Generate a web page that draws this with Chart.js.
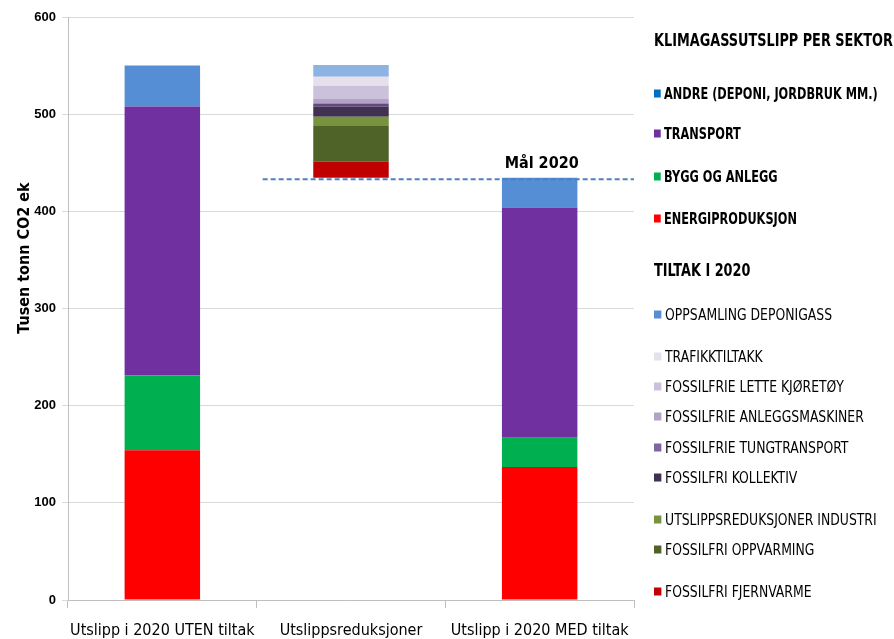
<!DOCTYPE html>
<html>
<head>
<meta charset="utf-8">
<script src="https://cdn.jsdelivr.net/npm/chart.js@4.4.1/dist/chart.umd.min.js"></script>
<style>
  body { margin: 0; background: #fff; }
  #ramme { position: relative; width: 894px; height: 639px; }
  #legende { position: absolute; left: 0; top: 0; width: 894px; height: 639px; pointer-events: none; }
  .rad { position: absolute; left: 654px; white-space: nowrap; font-family: "DejaVu Sans Condensed", "DejaVu Sans", sans-serif; font-size: 15px; line-height: 1; transform: translateY(-50%) scaleX(0.92); transform-origin: 0 50%; color: #000; }
  .rad .boks { display: inline-block; width: 8px; height: 8px; margin-right: 4px; vertical-align: 1px; }
  .fet { font-weight: bold; transform: translateY(-50%) scaleX(0.84); }
  .overskrift { font-weight: bold; font-size: 17px; transform: translateY(-50%) scaleX(0.84); }
</style>
</head>
<body>
<div id="ramme">
  <canvas id="graf" width="894" height="639"></canvas>
  <div id="legende"></div>
</div>
<script>
// kategorier og verdier lest av bildet (tusen tonn CO2-ekvivalenter)
const kategorier = ['Utslipp i 2020 UTEN tiltak', 'Utslippsreduksjoner', 'Utslipp i 2020 MED tiltak'];

const sektorer = ['ENERGIPRODUKSJON', 'BYGG OG ANLEGG', 'TRANSPORT', 'ANDRE (DEPONI, JORDBRUK MM.)'];
const utenTiltak = [154, 77, 277, 42];
const medTiltak = [137, 30, 237, 30.5];

const tiltak = ['FOSSILFRI FJERNVARME', 'FOSSILFRI OPPVARMING', 'UTSLIPPSREDUKSJONER INDUSTRI',
  'FOSSILFRI KOLLEKTIV', 'FOSSILFRIE TUNGTRANSPORT', 'FOSSILFRIE ANLEGGSMASKINER',
  'FOSSILFRIE LETTE KJØRETØY', 'TRAFIKKTILTAKK', 'OPPSAMLING DEPONIGASS'];
const reduksjoner = [16.5, 36.7, 9.6, 10.3, 3.5, 4.4, 13.7, 9.3, 12];

const maal2020 = 433;
const yMaks = 600;
const ySteg = 100;

// farger
const sektorFarger = ['#ff0000', '#00b050', '#7030a0', '#558ed5'];
const sektorLegendeFarger = ['#ff0000', '#00b050', '#7030a0', '#0070c0'];
const tiltakFarger = ['#c00000', '#4f6228', '#77933c', '#403152', '#604a7b', '#b3a2c7', '#ccc1da', '#e6e0ec', '#8db3e2'];
const tiltakLegendeFarger = ['#c00000', '#4f6228', '#77933c', '#403152', '#8064a2', '#b3a2c7', '#ccc1da', '#e6e0ec', '#558ed5'];

const fontNarrow = '"DejaVu Sans Condensed", "DejaVu Sans", sans-serif';

// restutslipp etter tiltak = grunnlinje for den flytende stolpen
const grunnlinje = medTiltak.reduce((a, b) => a + b, 0);

const datasett = [];
sektorer.forEach((navn, i) => {
  datasett.push({
    label: navn,
    data: [utenTiltak[i], null, medTiltak[i]],
    backgroundColor: sektorFarger[i]
  });
});
datasett.push({
  label: 'grunnlinje',
  data: [null, grunnlinje, null],
  backgroundColor: 'rgba(0,0,0,0)'
});
tiltak.forEach((navn, i) => {
  datasett.push({
    label: navn,
    data: [null, reduksjoner[i], null],
    backgroundColor: tiltakFarger[i]
  });
});

const ekstra = {
  id: 'ekstra',
  afterDatasetsDraw(chart) {
    const ctx = chart.ctx;
    const x = chart.scales.x;
    const y = chart.scales.y;
    const yp = y.getPixelForValue(maal2020);
    const xStart = (x.getPixelForValue(0) + x.getPixelForValue(1)) / 2 + 6;
    ctx.save();
    ctx.strokeStyle = '#4f81bd';
    ctx.lineWidth = 2;
    ctx.setLineDash([5, 3]);
    ctx.beginPath();
    ctx.moveTo(xStart, yp);
    ctx.lineTo(chart.chartArea.right, yp);
    ctx.stroke();
    ctx.setLineDash([]);

    ctx.fillStyle = '#000';
    ctx.font = 'bold 16px ' + fontNarrow;
    ctx.textAlign = 'center';
    ctx.textBaseline = 'bottom';
    ctx.fillText('Mål 2020', x.getPixelForValue(2) + 2, yp - 7);

    // y-aksetittel
    ctx.translate(25, 258);
    ctx.rotate(-Math.PI / 2);
    ctx.textBaseline = 'middle';
    ctx.font = 'bold 16px ' + fontNarrow;
    ctx.fillText('Tusen tonn CO2 ek', 0, 0);
    ctx.restore();
  }
};

new Chart(document.getElementById('graf'), {
  type: 'bar',
  data: { labels: kategorier, datasets: datasett },
  options: {
    responsive: false,
    animation: false,
    layout: { padding: { left: 0, right: 260, top: 17, bottom: 0 } },
    datasets: { bar: { barPercentage: 0.4, categoryPercentage: 1 } },
    plugins: { legend: { display: false }, tooltip: { enabled: false } },
    scales: {
      x: {
        stacked: true,
        grid: { display: true, drawOnChartArea: false, tickLength: 8, color: '#bfbfbf', offset: true },
        border: { color: '#bfbfbf' },
        ticks: { color: '#000', font: { family: fontNarrow, size: 16 }, padding: 13, maxRotation: 0, minRotation: 0, autoSkip: false },
        afterFit(s) { s.height = 39; s.paddingLeft = 0; s.paddingRight = 0; }
      },
      y: {
        stacked: true,
        min: 0,
        max: yMaks,
        grid: { color: '#d9d9d9', tickLength: 6 },
        border: { color: '#bfbfbf' },
        ticks: { stepSize: ySteg, color: '#000', font: { family: '"Liberation Sans", Arial, sans-serif', size: 13, weight: 'bold' }, padding: 6 },
        afterFit(s) { s.width = 68; }
      }
    }
  },
  plugins: [ekstra]
});

// legenden til høyre
const legende = document.getElementById('legende');
function rad(tekst, y, farge, klasse) {
  const d = document.createElement('div');
  d.className = 'rad ' + (klasse || '');
  d.style.top = y + 'px';
  if (farge) {
    const b = document.createElement('span');
    b.className = 'boks';
    b.style.background = farge;
    d.appendChild(b);
  }
  d.appendChild(document.createTextNode(tekst));
  legende.appendChild(d);
}
const sektorRader = [219, 177, 134, 94];
const tiltakRader = [592, 550, 520, 478, 448, 417, 387, 357, 315];
rad('KLIMAGASSUTSLIPP PER SEKTOR', 40, null, 'overskrift');
for (let i = sektorer.length - 1; i >= 0; i--) rad(sektorer[i], sektorRader[i], sektorLegendeFarger[i], 'fet');
rad('TILTAK I 2020', 270, null, 'overskrift');
for (let i = tiltak.length - 1; i >= 0; i--) rad(tiltak[i], tiltakRader[i], tiltakLegendeFarger[i]);
</script>
</body>
</html>
